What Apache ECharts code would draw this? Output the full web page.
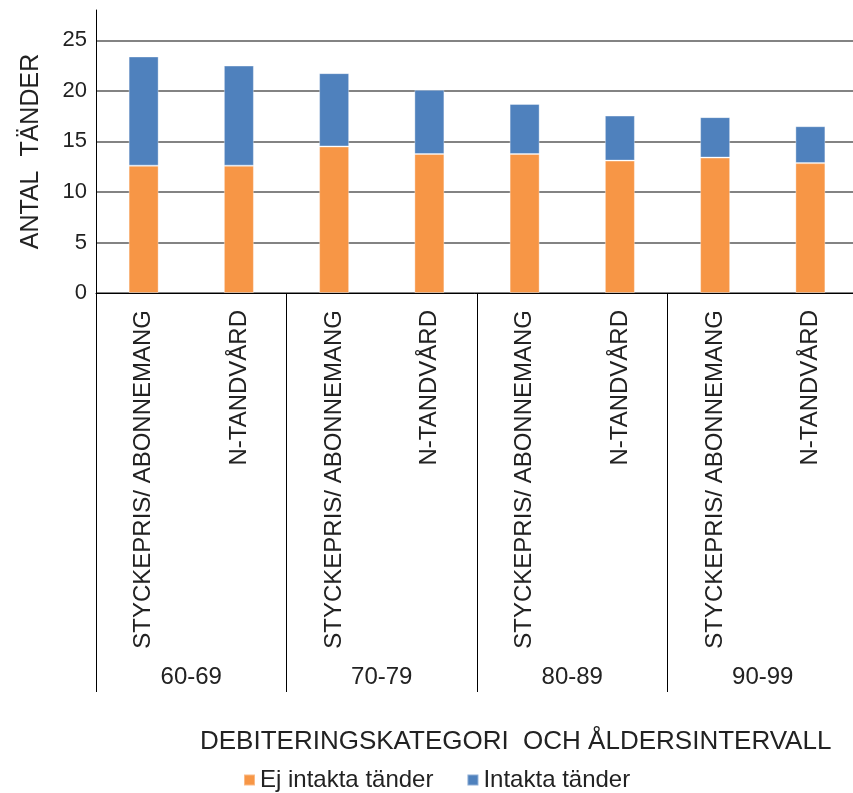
<!DOCTYPE html>
<html>
<head>
<meta charset="utf-8">
<script src="https://cdn.jsdelivr.net/npm/echarts@6/dist/echarts.min.js"></script>
<style>html,body{margin:0;padding:0;background:#fff;}#c{width:853px;height:793px;}</style>
</head>
<body>
<div id="c"></div>
<script>
const categories = ['STYCKEPRIS/ ABONNEMANG','N-TANDVÅRD','STYCKEPRIS/ ABONNEMANG','N-TANDVÅRD','STYCKEPRIS/ ABONNEMANG','N-TANDVÅRD','STYCKEPRIS/ ABONNEMANG','N-TANDVÅRD'];
const ageGroups = ['60-69','70-79','80-89','90-99'];
const ejIntakta = [12.6, 12.6, 14.5, 13.75, 13.75, 13.1, 13.4, 12.85];
const intakta = [10.8, 9.9, 7.25, 6.35, 4.95, 4.45, 4.0, 3.65];
const seriesNames = ['Ej intakta tänder','Intakta tänder'];
const yTitle = 'ANTAL  TÄNDER';
const xTitle = 'DEBITERINGSKATEGORI  OCH ÅLDERSINTERVALL';

const FONT = 'Liberation Sans, Arial, sans-serif';
const chart = echarts.init(document.getElementById('c'), null, {renderer:'canvas'});
chart.setOption({
  animation: false,
  color: ['#F79646','#4F81BD'],
  textStyle: {fontFamily: FONT, color: '#222'},
  title: {
    text: xTitle, left: 200, top: 729, padding: 0,
    textStyle: {fontFamily: FONT, fontSize: 26, fontWeight: 'normal', color: '#222'}
  },
  legend: {
    data: seriesNames, left: 243, top: 768, padding: 0,
    icon: 'rect', itemWidth: 11, itemHeight: 11, itemGap: 33,
    textStyle: {fontFamily: FONT, fontSize: 24, color: '#222'}
  },
  grid: {left: 96, width: 762, top: 10, bottom: 500, containLabel: false, outerBoundsMode: 'none'},
  xAxis: [
    {
      type: 'category', data: categories, position: 'bottom',
      axisLine: {show: true, lineStyle: {color: '#000', width: 1}},
      axisTick: {show: false},
      axisLabel: {rotate: 90, margin: 17, fontSize: 24, color: '#222', fontFamily: FONT, interval: 0}
    },
    {
      type: 'category', data: ageGroups, position: 'bottom', gridIndex: 0,
      axisLine: {show: false},
      axisTick: {show: true, length: 399, interval: 0, lineStyle: {color: '#000', width: 1}},
      axisLabel: {margin: 372, fontSize: 24, color: '#222', fontFamily: FONT, interval: 0}
    }
  ],
  yAxis: {
    type: 'value', min: 0, max: 28, interval: 5,
    name: yTitle, nameLocation: 'middle', nameGap: 52, nameRotate: 90,
    nameTextStyle: {fontFamily: FONT, fontSize: 25, color: '#222'},
    axisLine: {show: true, lineStyle: {color: '#000', width: 1}},
    axisTick: {show: false},
    axisLabel: {margin: 9, fontSize: 22, color: '#222', fontFamily: FONT, showMaxLabel: false},
    splitLine: {show: true, showMaxLine: false, lineStyle: {color: '#5a5a5a', width: 1.5}}
  },
  series: [
    {name: seriesNames[0], type: 'bar', stack: 's', barWidth: 30, data: ejIntakta, xAxisIndex: 0,
     itemStyle: {borderColor: 'rgba(255,255,255,0.35)', borderWidth: 1}},
    {name: seriesNames[1], type: 'bar', stack: 's', barWidth: 30, data: intakta, xAxisIndex: 0,
     itemStyle: {borderColor: 'rgba(255,255,255,0.35)', borderWidth: 1}}
  ]
});
</script>
</body>
</html>
